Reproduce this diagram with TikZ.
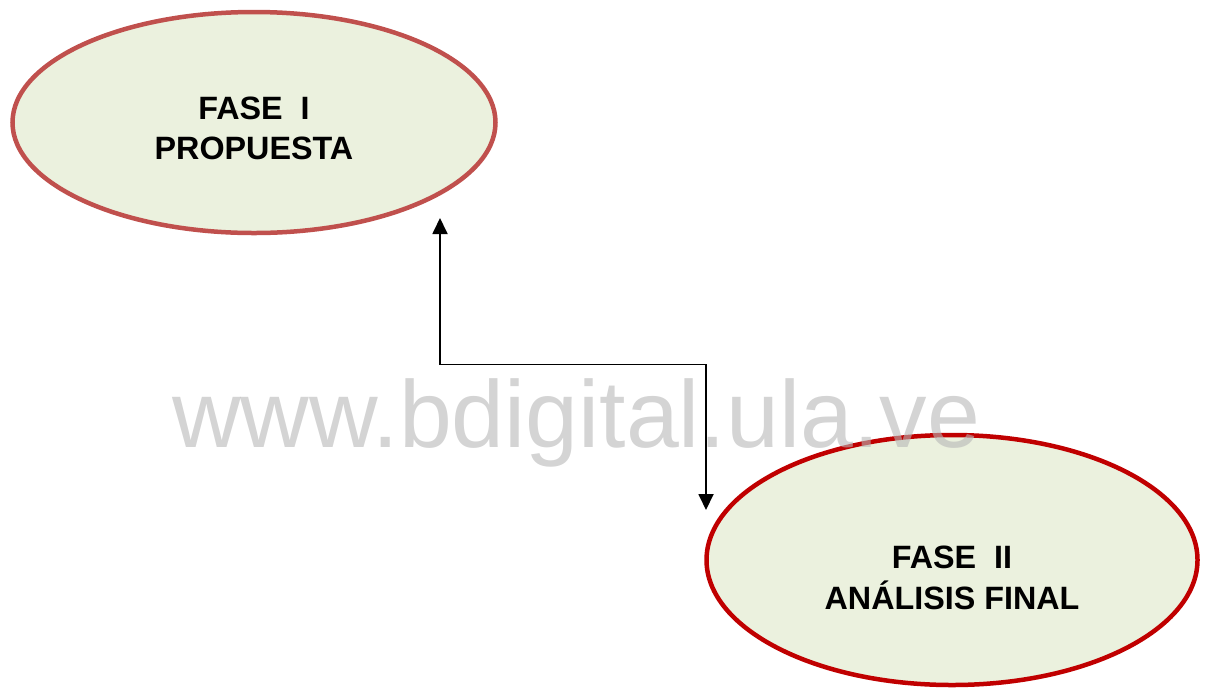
\documentclass[tikz,border=0pt]{standalone}
\usepackage{fontspec}
\setmainfont{Liberation Sans}
\usetikzlibrary{shapes.geometric,arrows.meta}

\definecolor{relleno}{RGB}{235,241,222}
\definecolor{bordeuno}{RGB}{192,80,77}
\definecolor{bordedos}{RGB}{192,0,0}
\definecolor{gris}{RGB}{183,183,183}

\tikzset{
  fase/.style={ellipse, fill=relleno, line width=4.5pt, inner sep=0pt},
  etiqueta/.style={align=center, font=\bfseries\fontsize{32.3}{40.5}\selectfont},
  marca/.style={text=gris, text opacity=0.6, font=\fontsize{95}{95}\selectfont, inner sep=0pt, anchor=base},
  flecha/.style={line width=1.8pt, {Triangle[length=16pt,width=15pt]}-{Triangle[length=16pt,width=15pt]}}
}

\begin{document}
\begin{tikzpicture}[x=1pt,y=-1pt]
			%%%%% START %%%%%
			\useasboundingbox (0,0) rectangle (1206,689);
			
			\node[fase, draw=bordeuno, minimum width=483pt, minimum height=221pt] (fase1) at (254, 122.5) {};
			\node[etiqueta] (txt1) at ([yshift=-6pt]fase1.center) {FASE\ \ I\\PROPUESTA};
			
			\node[fase, draw=bordedos, minimum width=491pt, minimum height=250pt] (fase2) at (952, 560) {};
			\node[etiqueta] (txt2) at ([yshift=-18pt]fase2.center) {FASE\ \ II\\ANÁLISIS FINAL};
			
			\node[marca] (marca) at (576, 447) {www.bdigital.ula.ve};
			
			\coordinate (puntaA) at (440, 218);
			\coordinate (codo) at (0, 364.5);
			\coordinate (puntaB) at (706, 510);
			\draw[flecha] (puntaA) -- (puntaA |- codo) -| (puntaB);
			
			%%%%% END %%%%%
\end{tikzpicture}
\end{document}
